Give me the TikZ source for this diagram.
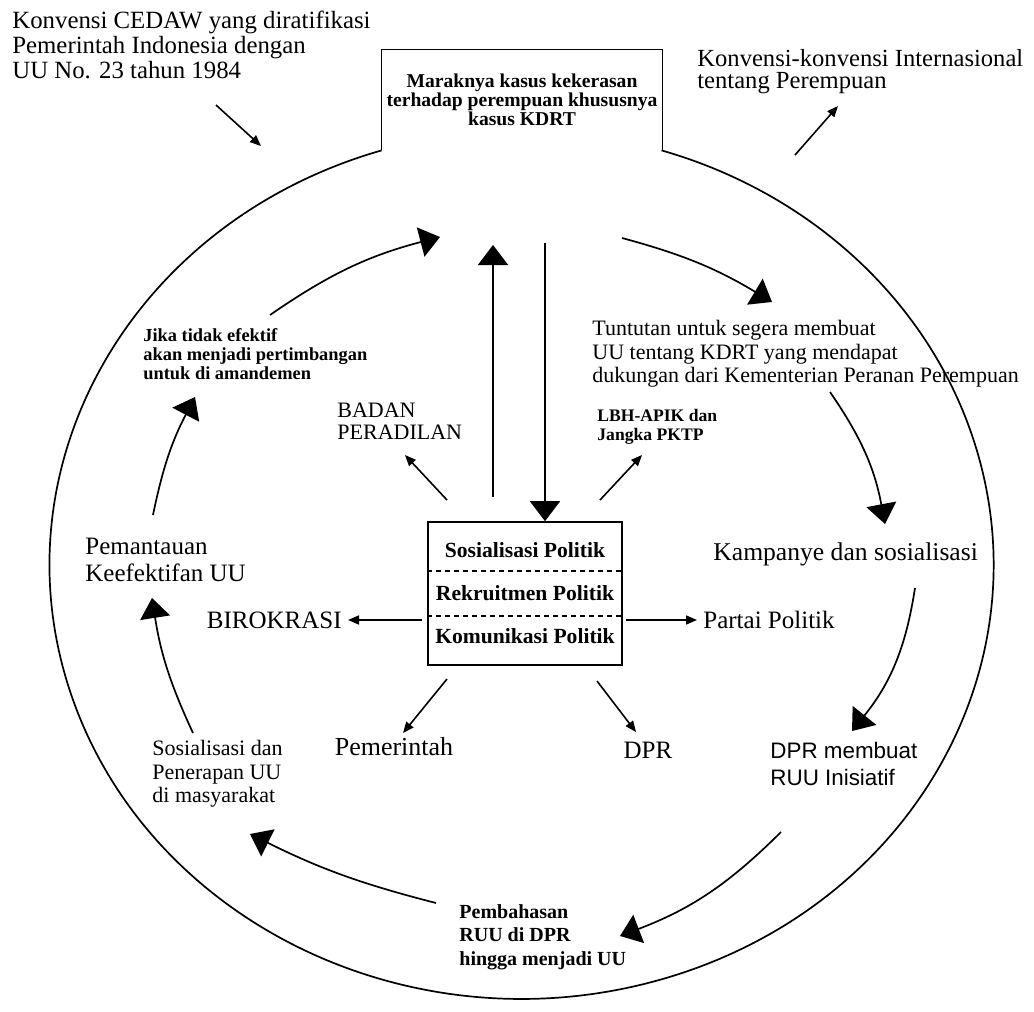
\documentclass[tikz,border=0pt]{standalone}
\usepackage{fontspec}
\setmainfont{Liberation Serif}
\newfontfamily\arialfont{Liberation Sans}
\usetikzlibrary{arrows.meta}

\newcommand\fkonv{\fontsize{12.4}{12.3}\selectfont}
\newcommand\fint{\fontsize{12.3}{11}\selectfont}
\newcommand\fmarak{\fontsize{9.8}{9.4}\selectfont\bfseries}
\newcommand\fjika{\fontsize{9.2}{9.6}\selectfont\bfseries}
\newcommand\flbh{\fontsize{8.8}{9.5}\selectfont\bfseries}
\newcommand\fsedang{\fontsize{11}{11.75}\selectfont}
\newcommand\fbesar{\fontsize{12.5}{13.5}\selectfont}

\tikzset{
  teks/.style={inner sep=0pt, align=left, anchor=north west},
  garis/.style={line width=0.85pt},
  panahbesar/.style={line width=0.85pt, -{Triangle[width=15pt,length=10pt]}},
  panahkecil/.style={line width=0.8pt, -{Triangle[width=4.5pt,length=5.5pt]}},
  titik/.style={line width=0.9pt, dash pattern=on 2.5pt off 2pt},
}

\begin{document}
\begin{tikzpicture}[x=0.5pt,y=-0.5pt]
  \useasboundingbox (0,0) rectangle (1034,1012);

  % kotak atas dan lingkaran besar
  \node[minimum width=140pt, minimum height=50pt, inner sep=0pt, align=center, font=\fmarak] (topbox) at (522,100)
    {Maraknya kasus kekerasan\\terhadap perempuan khususnya\\kasus KDRT};
  \draw[garis] (topbox.south west) -- (topbox.north west) -- (topbox.north east) -- (topbox.south east);
  \draw[garis] (topbox.south west) arc[start angle=107.25, end angle=432.75, x radius=236pt, y radius=217pt];

  % teks luar
  \node[teks, font=\fkonv] (cedaw) at (12,11) {Konvensi CEDAW yang diratifikasi\\Pemerintah Indonesia dengan\\UU No. 23 tahun 1984};
  \node[teks, font=\fint] (konvint) at (697,49) {Konvensi-konvensi Internasional\\tentang Perempuan};
  \coordinate (cedawA) at (216,105);
  \coordinate (cedawB) at (261,146);
  \coordinate (intA) at (795,155);
  \coordinate (intB) at (838,106);
  \draw[panahkecil] (cedawA) -- (cedawB);
  \draw[panahkecil] (intA) -- (intB);

  % kotak tengah
  \node[draw, line width=0.8pt, minimum width=97pt, minimum height=71.5pt, inner sep=0pt, align=center,
    font=\fontsize{10.8}{21.5}\selectfont\bfseries] (pbox) at (525,593.5)
    {Sosialisasi Politik\\Rekruitmen Politik\\Komunikasi Politik};
  \draw[titik] ([yshift=-25pt]pbox.north west) -- ([yshift=-25pt]pbox.north east);
  \draw[titik] ([yshift=-47.5pt]pbox.north west) -- ([yshift=-47.5pt]pbox.north east);

  % siklus
  \node[teks, font=\fsedang] (tuntutan) at (592,320) {Tuntutan untuk segera membuat\\UU tentang KDRT yang mendapat\\dukungan dari Kementerian Peranan Perempuan};
  \node[teks, font=\fontsize{12.8}{13}\selectfont] (kampanye) at (713,542) {Kampanye dan sosialisasi};
  \node[teks, font=\arialfont\fontsize{11.2}{13.5}\selectfont] (dprbuat) at (770,742) {DPR membuat\\RUU Inisiatif};
  \node[teks, font=\fontsize{10}{11.8}\selectfont\bfseries] (pembahasan) at (459,904) {Pembahasan\\RUU di DPR\\hingga menjadi UU};
  \node[teks, font=\fsedang] (sosuu) at (152,740) {Sosialisasi dan\\Penerapan UU\\di masyarakat};
  \node[teks, font=\fbesar] (pemantauan) at (85,538) {Pemantauan\\Keefektifan UU};
  \node[teks, font=\fjika] (jika) at (143,328) {Jika tidak efektif\\akan menjadi pertimbangan\\untuk di amandemen};

  \coordinate (jikaout) at (270,315);
  \coordinate (puncakin) at (440,237);
  \coordinate (puncakout) at (622,238);
  \coordinate (tuntutanin) at (772,302);
  \coordinate (tuntutanout) at (830,392);
  \coordinate (kampanyein) at (885,524);
  \coordinate (kampanyeout) at (915,588);
  \coordinate (dprbuatin) at (852,731);
  \coordinate (dprbuatout) at (781,832);
  \coordinate (bahasin) at (620,936);
  \coordinate (bahasout) at (436,903);
  \coordinate (sosuuin) at (250,834);
  \coordinate (sosuuout) at (193,733);
  \coordinate (pantauin) at (152,598);
  \coordinate (pantauout) at (153,515);
  \coordinate (jikain) at (195,397);

  \draw[panahbesar] (jikaout) to[bend left=10] (puncakin);
  \draw[panahbesar] (puncakout) to[bend left=8] (tuntutanin);
  \draw[panahbesar] (tuntutanout) to[bend left=12] (kampanyein);
  \draw[panahbesar] (kampanyeout) to[bend left=15] (dprbuatin);
  \draw[panahbesar] (dprbuatout) to[bend left=12] (bahasin);
  \draw[panahbesar] (bahasout) to[bend left=6] (sosuuin);
  \draw[panahbesar] (sosuuout) to[bend left=8] (pantauin);
  \draw[panahbesar] (pantauout) to[bend left=8] (jikain);

  % panah tengah
  \coordinate (naikA) at (493,497);
  \coordinate (naikB) at (493,245);
  \coordinate (turunA) at (545,243);
  \draw[panahbesar] (naikA) -- (naikB);
  \draw[panahbesar] (turunA) -- (turunA |- pbox.north);

  \node[teks, font=\fontsize{11}{11}\selectfont] (badan) at (337,403) {BADAN\\PERADILAN};
  \node[teks, font=\flbh] (lbh) at (597,409) {LBH-APIK dan\\Jangka PKTP};
  \node[inner xsep=3pt, inner ysep=0pt, anchor=east, font=\fbesar] (birokrasi) at (348,620) {BIROKRASI};
  \node[inner xsep=3pt, inner ysep=0pt, anchor=west, font=\fbesar] (partai) at (697,620) {Partai Politik};
  \node[inner sep=0pt, anchor=base, font=\fontsize{13}{13}\selectfont] (pemerintah) at (394,755) {Pemerintah};
  \node[inner sep=0pt, anchor=base, font=\fbesar] (dpr) at (648,758) {DPR};

  \coordinate (badanA) at (447,500);
  \coordinate (badanB) at (405,455);
  \coordinate (lbhA) at (600,500);
  \coordinate (lbhB) at (642,455);
  \coordinate (pemA) at (447,679);
  \coordinate (pemB) at (403,733);
  \coordinate (dprA) at (597,681);
  \coordinate (dprB) at (636,732);
  \draw[panahkecil] (badanA) -- (badanB);
  \draw[panahkecil] (lbhA) -- (lbhB);
  \draw[panahkecil] (pemA) -- (pemB);
  \draw[panahkecil] (dprA) -- (dprB);
  \draw[panahkecil] (pbox.west |- birokrasi.east) ++(-5,0) -- (birokrasi.east);
  \draw[panahkecil] (pbox.east |- partai.west) ++(3,0) -- (partai.west);
\end{tikzpicture}
\end{document}
